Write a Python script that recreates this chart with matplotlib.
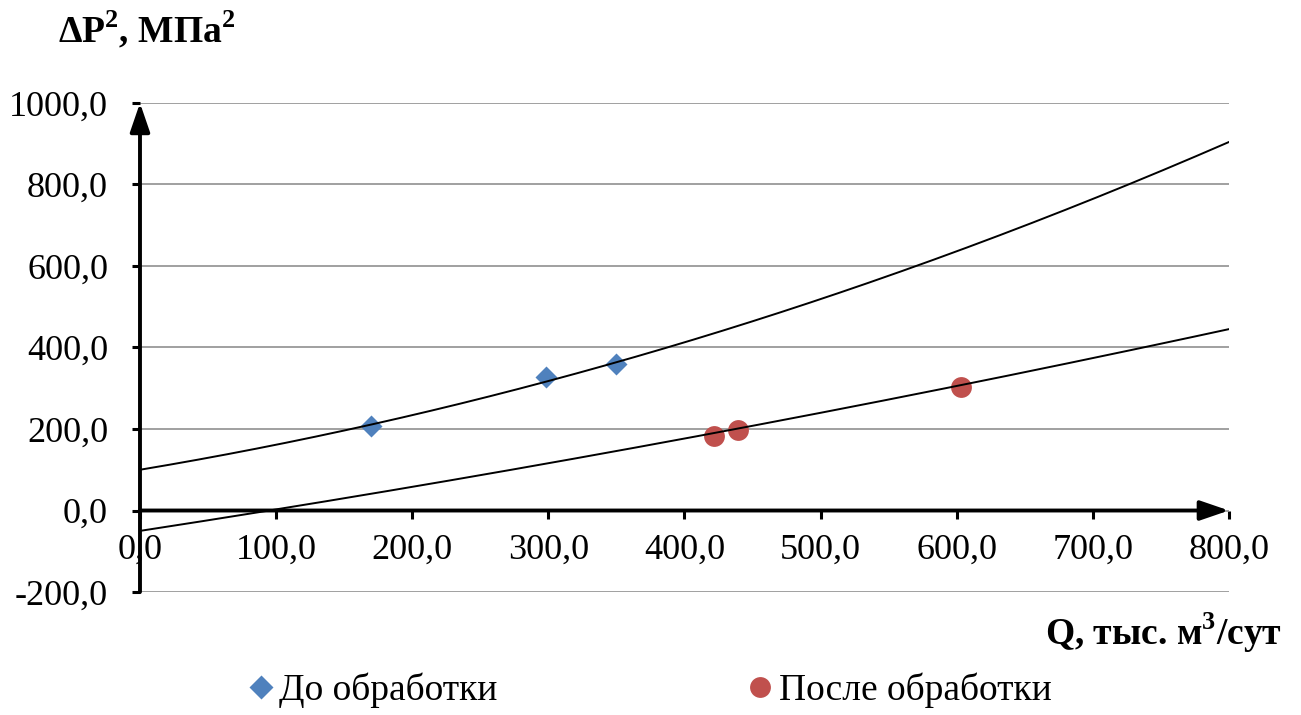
import numpy as np
import matplotlib.pyplot as plt
from matplotlib.lines import Line2D
from matplotlib.ticker import FuncFormatter

# ---------- data ----------
q_before = [170, 298, 350]          # тыс. м3/сут
dp_before = [207, 328, 359]         # МПа2
q_after = [422, 439, 603]
dp_after = [183, 198, 304]

# polynomial trend lines (a*Q^2 + b*Q + c)
trend_before = [0.000559, 0.558, 100.0]
trend_after = [0.000131, 0.514, -50.0]

x_ticks = [0, 100, 200, 300, 400, 500, 600, 700, 800]
y_ticks = [-200, 0, 200, 400, 600, 800, 1000]

BLUE = "#4F81BD"
RED = "#C0504D"

plt.rcParams["font.family"] = ["Liberation Serif", "DejaVu Serif"]
plt.rcParams["mathtext.fontset"] = "custom"
plt.rcParams["mathtext.rm"] = "Liberation Serif"
plt.rcParams["mathtext.bf"] = "Liberation Serif:bold"

fig = plt.figure(figsize=(13.01, 7.15), dpi=100)
ax = fig.add_axes([0.1076, 0.172, 0.837, 0.684])
ax.set_xlim(0, 800)
ax.set_ylim(-200, 1000)

# grid
ax.set_yticks(y_ticks)
ax.set_xticks(x_ticks)
ax.yaxis.grid(True, color="#868686", lw=1.1)
ax.set_axisbelow(True)

# spines: draw axes as arrows instead
for s in ["top", "right"]:
    ax.spines[s].set_visible(False)
ax.spines["bottom"].set_position(("data", 0))
ax.spines["left"].set_visible(False)
ax.spines["bottom"].set_visible(False)

comma = FuncFormatter(lambda v, p: f"{v:.1f}".replace(".", ","))
ax.xaxis.set_major_formatter(comma)
ax.yaxis.set_major_formatter(comma)
ax.tick_params(axis="y", direction="out", length=6, width=2.2, pad=17, labelsize=26)
ax.tick_params(axis="x", direction="out", length=6, width=2.2, pad=11, labelsize=26)

arrow = dict(arrowstyle="-|>,head_length=1.75,head_width=0.6", color="black",
             lw=2.8, mutation_scale=10, shrinkA=0, shrinkB=0)
ax.annotate("", xy=(0, 1000), xytext=(0, -200), arrowprops=arrow,
            annotation_clip=False, zorder=5)
ax.annotate("", xy=(800, 0), xytext=(0, 0), arrowprops=arrow,
            annotation_clip=False, zorder=5)

# trend lines
xx = np.linspace(0, 800, 300)
ax.plot(xx, np.polyval(trend_before, xx), color="black", lw=1.4, zorder=4)
ax.plot(xx, np.polyval(trend_after, xx), color="black", lw=1.4, zorder=4)

# points
ax.plot(q_before, dp_before, "D", color=BLUE, ms=11.5, mec="none", zorder=3)
ax.plot(q_after, dp_after, "o", color=RED, ms=15, mec="none", zorder=3)

# axis titles
fig.text(58 / 1301, 1 - 30 / 715, r"ΔP$^{\mathbf{2}}$, МПа$^{\mathbf{2}}$",
         fontsize=27, fontweight="bold", ha="left", va="center")
fig.text(1282 / 1301, 1 - 633 / 715, r"Q, тыс. м$^{\mathbf{3}}$/сут", fontsize=27,
         fontweight="bold", ha="right", va="center")

# legend
handles = [
    Line2D([], [], ls="none", marker="D", color=BLUE, mec="none", ms=12),
    Line2D([], [], ls="none", marker="o", color=RED, mec="none", ms=15),
]
fig.legend(handles, ["До обработки", "После обработки"], loc="center",
           bbox_to_anchor=(0.5, 1 - 690 / 715), ncol=2, frameon=False,
           fontsize=27, handlelength=0.6, handletextpad=0.2, columnspacing=6.7)

fig.savefig("out.png", dpi=100)
